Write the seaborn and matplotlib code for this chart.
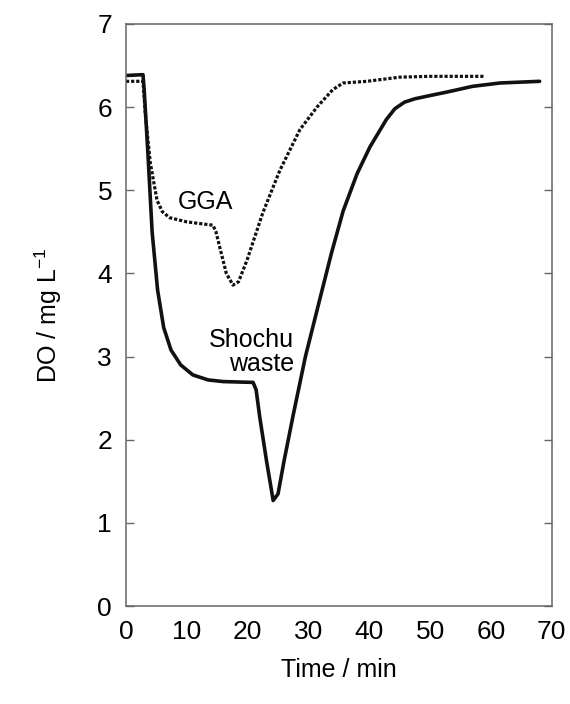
import matplotlib
matplotlib.use('Agg')
import matplotlib.pyplot as plt
import seaborn as sns
import pandas as pd

# Shochu waste (solid) and GGA (dashed) DO traces
shochu_t = [0, 2.8, 3.0, 3.6, 4.3, 5.2, 6.2, 7.4, 9.0, 11.0, 13.5, 16.0, 20.9, 21.4,
            22.0, 23.1, 24.2, 25.0, 26.0, 27.5, 29.5, 31.9, 33.8, 35.7, 38.0, 40.1,
            42.8, 44.2, 45.8, 47.5, 49.4, 52.7, 57.0, 61.5, 68.0]
shochu_do = [6.38, 6.39, 6.2, 5.45, 4.5, 3.8, 3.35, 3.08, 2.9, 2.78, 2.72, 2.70, 2.69, 2.6,
             2.27, 1.75, 1.27, 1.35, 1.75, 2.3, 3.0, 3.7, 4.25, 4.75, 5.2, 5.52,
             5.85, 5.98, 6.06, 6.1, 6.13, 6.18, 6.25, 6.29, 6.31]
gga_t = [0, 2.8, 3.2, 4.0, 5.1, 6.0, 7.2, 10.0, 14.3, 14.8, 15.4, 16.5, 17.6, 18.5,
         19.9, 22.5, 25.3, 28.6, 31.4, 34.0, 35.7, 39.6, 45.0, 50.0, 59.0]
gga_do = [6.31, 6.31, 5.9, 5.33, 4.88, 4.74, 4.67, 4.62, 4.58, 4.5, 4.32, 4.0, 3.86, 3.9,
          4.16, 4.73, 5.24, 5.73, 6.0, 6.21, 6.29, 6.31, 6.36, 6.37, 6.37]

sns.set_style('white')
plt.rcParams['font.family'] = ['Liberation Sans', 'DejaVu Sans']
plt.rcParams['mathtext.fontset'] = 'custom'
plt.rcParams['mathtext.rm'] = 'Liberation Sans'
plt.rcParams['mathtext.default'] = 'regular'
plt.rcParams['text.color'] = 'black'
plt.rcParams['axes.labelcolor'] = 'black'
plt.rcParams['xtick.color'] = 'black'
plt.rcParams['ytick.color'] = 'black'

shochu = pd.DataFrame({'t': shochu_t, 'do': shochu_do})
gga = pd.DataFrame({'t': gga_t, 'do': gga_do})

fig = plt.figure(figsize=(5.7, 7.04), dpi=100)
ax = fig.add_axes([0.221, 0.139, 0.747, 0.827])

sns.lineplot(data=shochu, x='t', y='do', ax=ax, color='#111111', lw=2.6)
sns.lineplot(data=gga, x='t', y='do', ax=ax, color='#111111', lw=2.3,
             linestyle=(0, (1.0, 0.6)))

ax.set_xlim(0, 70)
ax.set_ylim(0, 7)
ax.set_xticks(range(0, 71, 10))
ax.set_yticks(range(0, 8))
ax.tick_params(axis='x', length=0, labelsize=19, pad=10)
ax.tick_params(axis='y', direction='in', length=6, width=1, color='#666666',
               labelcolor='black', labelsize=19, right=True, left=True, pad=10)
for s in ax.spines.values():
    s.set_color('#666666')
    s.set_linewidth(1.1)

ax.set_xlabel('Time / min', fontsize=18, labelpad=10)
ax.set_ylabel('DO / mg L$^{-1}$', fontsize=18, labelpad=24)

ax.text(13.0, 4.86, 'GGA', fontsize=18, ha='center', va='center')
ax.text(27.6, 3.05, 'Shochu\nwaste', fontsize=18, ha='right', va='center',
        linespacing=1.0)

fig.savefig('out.png', dpi=100)
